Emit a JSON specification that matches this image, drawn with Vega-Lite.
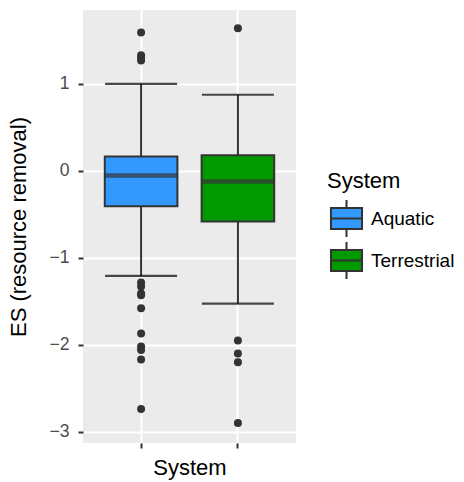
{
  "$schema": "https://vega.github.io/schema/vega-lite/v6.json",
  "autosize": "none",
  "width": 213,
  "height": 433,
  "padding": {"left": 83, "top": 10, "right": 168, "bottom": 39},
  "background": "white",
  "config": {
    "font": "Liberation Sans",
    "view": {"fill": "#EBEBEB", "stroke": null}
  },
  "datasets": {
    "summary": [
      {"System": "Aquatic", "lower": -1.208, "q1": -0.406, "median": -0.054, "q3": 0.165, "upper": 1.0},
      {"System": "Terrestrial", "lower": -1.527, "q1": -0.583, "median": -0.123, "q3": 0.18, "upper": 0.875}
    ],
    "outliers": [
      {"System": "Aquatic", "ES": 1.59},
      {"System": "Aquatic", "ES": 1.33},
      {"System": "Aquatic", "ES": 1.30},
      {"System": "Aquatic", "ES": 1.27},
      {"System": "Aquatic", "ES": -1.285},
      {"System": "Aquatic", "ES": -1.33},
      {"System": "Aquatic", "ES": -1.41},
      {"System": "Aquatic", "ES": -1.43},
      {"System": "Aquatic", "ES": -1.58},
      {"System": "Aquatic", "ES": -1.87},
      {"System": "Aquatic", "ES": -2.02},
      {"System": "Aquatic", "ES": -2.06},
      {"System": "Aquatic", "ES": -2.17},
      {"System": "Aquatic", "ES": -2.74},
      {"System": "Terrestrial", "ES": 1.64},
      {"System": "Terrestrial", "ES": -1.95},
      {"System": "Terrestrial", "ES": -2.10},
      {"System": "Terrestrial", "ES": -2.20},
      {"System": "Terrestrial", "ES": -2.90}
    ]
  },
  "encoding": {
    "x": {
      "field": "System",
      "type": "nominal",
      "scale": {"type": "band", "domain": ["Aquatic", "Terrestrial"], "paddingInner": 0.25, "paddingOuter": 0.225},
      "axis": {
        "title": "System",
        "labels": false,
        "domain": false,
        "bandPosition": 0.5,
        "ticks": true,
        "tickSize": 5,
        "tickWidth": 2,
        "tickColor": "#333333",
        "grid": true,
        "gridColor": "white",
        "gridWidth": 2,
        "titleFontSize": 22,
        "titleFontWeight": "normal",
        "titleColor": "black",
        "titlePadding": 8
      }
    }
  },
  "layer": [
    {
      "data": {"name": "summary"},
      "mark": {"type": "rule", "color": "#333333", "strokeWidth": 2},
      "encoding": {
        "y": {
          "field": "lower",
          "type": "quantitative",
          "scale": {"domain": [-3.13, 1.85], "nice": false, "zero": false},
          "axis": {
            "title": "ES (resource removal)",
            "values": [-3, -2.5, -2, -1.5, -1, -0.5, 0, 0.5, 1, 1.5],
            "format": "d",
            "labelExpr": "datum.value % 1 === 0 ? datum.label : ''",
            "domain": false,
            "grid": true,
            "gridColor": "white",
            "gridWidth": {"condition": {"test": "datum.value % 1 !== 0", "value": 1}, "value": 2},
            "tickOpacity": {"condition": {"test": "datum.value % 1 !== 0", "value": 0}, "value": 1},
            "tickSize": 5,
            "tickWidth": 2,
            "tickColor": "#333333",
            "labelFontSize": 17.6,
            "labelColor": "#4D4D4D",
            "labelPadding": 9,
            "titleFontSize": 22,
            "titleFontWeight": "normal",
            "titleColor": "black",
            "titlePadding": 18
          }
        },
        "y2": {"field": "q1"}
      }
    },
    {
      "data": {"name": "summary"},
      "mark": {"type": "rule", "color": "#333333", "strokeWidth": 2},
      "encoding": {
        "y": {"field": "q3", "type": "quantitative"},
        "y2": {"field": "upper"}
      }
    },
    {
      "data": {"name": "summary"},
      "mark": {"type": "tick", "color": "black", "size": 72, "thickness": 2.2},
      "encoding": {
        "y": {"field": "lower", "type": "quantitative"}
      }
    },
    {
      "data": {"name": "summary"},
      "mark": {"type": "tick", "color": "black", "size": 72, "thickness": 2.2},
      "encoding": {
        "y": {"field": "upper", "type": "quantitative"}
      }
    },
    {
      "data": {"name": "summary"},
      "mark": {"type": "bar", "stroke": "#333333", "strokeWidth": 2},
      "encoding": {
        "y": {"field": "q1", "type": "quantitative"},
        "y2": {"field": "q3"},
        "fill": {
          "field": "System",
          "type": "nominal",
          "scale": {"domain": ["Aquatic", "Terrestrial"], "range": ["#3399FF", "#009900"]},
          "legend": {
            "orient": "none",
            "legendX": 244,
            "legendY": 161,
            "padding": 0,
            "title": "System",
            "titleFontSize": 22,
            "titleFontWeight": "normal",
            "titleColor": "black",
            "titlePadding": 6,
            "labelFontSize": 19,
            "labelColor": "black",
            "labelOffset": 5,
            "rowPadding": -6,
            "symbolType": "M-0.84,-0.57H0.84V0.57H-0.84Z M-0.84,0H0.84 M0,-0.57V-1 M0,0.57V1",
            "symbolSize": 1369,
            "symbolStrokeColor": "#333333",
            "symbolStrokeWidth": 2,
            "symbolOpacity": 1
          }
        }
      }
    },
    {
      "data": {"name": "summary"},
      "mark": {"type": "tick", "color": "#333333", "size": 72, "thickness": 4.5},
      "encoding": {
        "y": {"field": "median", "type": "quantitative"}
      }
    },
    {
      "data": {"name": "outliers"},
      "mark": {"type": "point", "filled": true, "color": "#333333", "size": 64, "opacity": 1},
      "encoding": {
        "y": {"field": "ES", "type": "quantitative"}
      }
    }
  ]
}
